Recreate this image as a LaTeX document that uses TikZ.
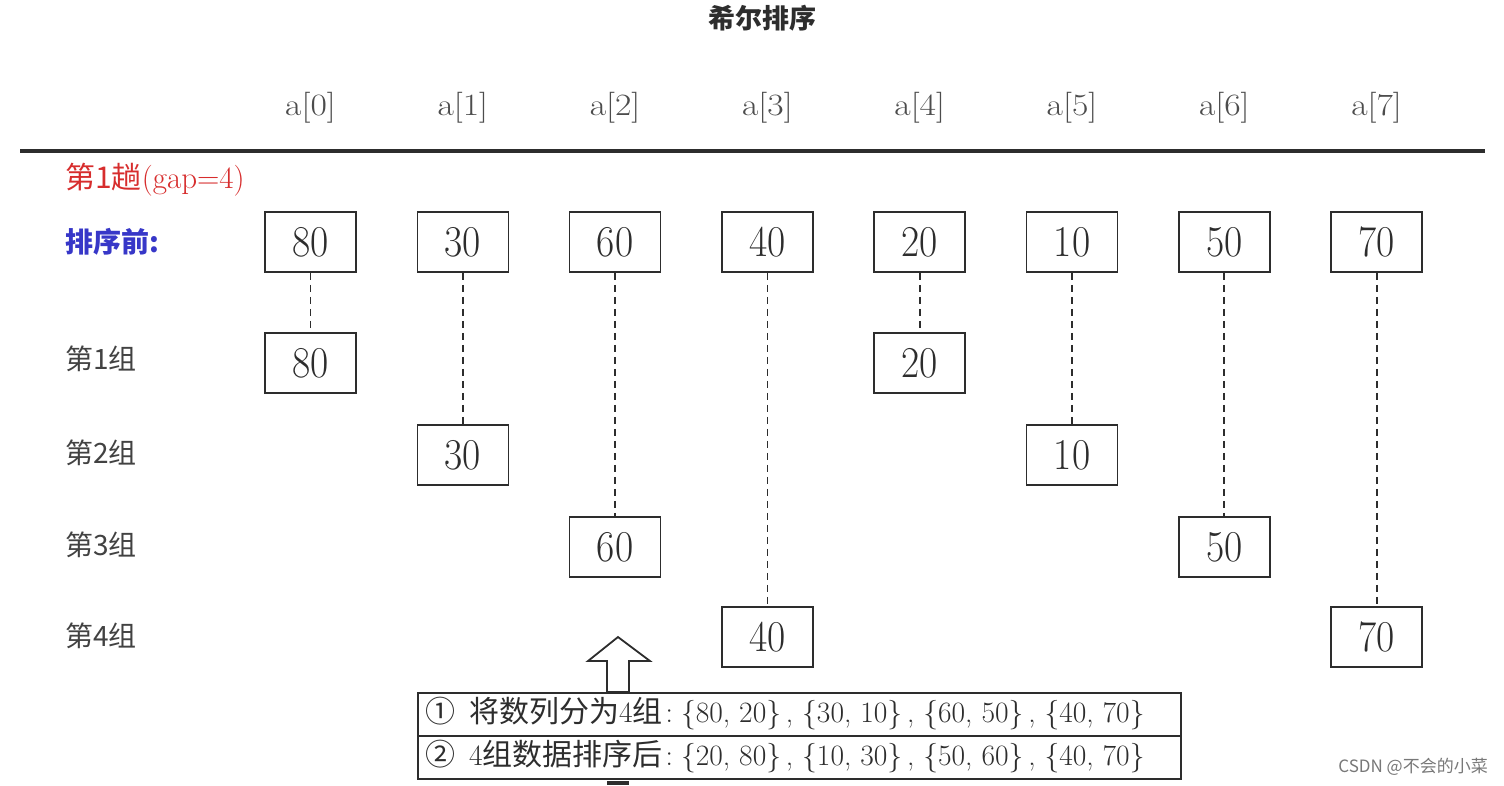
\documentclass[tikz,border=0pt]{standalone}
\usepackage{fontspec}
\usepackage{graphicx}
\newfontfamily\cjk{Noto Sans CJK SC}
\definecolor{ink}{RGB}{45,45,45}
\definecolor{hred}{RGB}{215,45,45}
\definecolor{hblue}{RGB}{55,55,200}
\definecolor{wm}{RGB}{120,120,120}
\newcommand{\numtxt}[1]{\scalebox{0.9}[1]{\fontsize{44}{48}\selectfont #1}}
\newcommand{\hdrtxt}[1]{\scalebox{1.15}[1]{\fontsize{31}{34}\selectfont #1}}
\newcommand{\cj}[1]{{\cjk\fontsize{30}{32}\selectfont #1}}
\begin{document}
\begin{tikzpicture}[x=1pt,y=-1pt,
  valbox/.style={draw=ink,line width=1.6pt,minimum width=91pt,minimum height=60pt,inner sep=0pt,text=ink},
  hdr/.style={text=ink!85,inner sep=0pt},
  rowlab/.style={anchor=west,inner sep=0pt,text=ink!90,font=\cjk\fontsize{28}{30}\selectfont},
  link/.style={draw=ink,line width=1.8pt,dash pattern=on 7pt off 5pt},
  infobox/.style={draw=ink,line width=2pt,minimum width=763pt,minimum height=43pt,inner sep=0pt,anchor=north west,text=ink}]
\useasboundingbox (0,0) rectangle (1504,785);
\fill[white] (0,0) rectangle (1504,785);
% title
\node[font=\cjk\bfseries\fontsize{27}{30}\selectfont,text=ink] (title) at (762,18) {希尔排序};
% separator
\coordinate (sepL) at (20,151);
\coordinate (sepR) at (1485,151);
\draw[ink,line width=3.5pt] (sepL) -- (sepR);
% left labels
\node[rowlab,text=hred,font=\cjk\fontsize{30}{32}\selectfont] (pass) at (65,180) {第1趟{\rmfamily\fontsize{31}{32}\selectfont(gap=4)}};
\node[rowlab,text=hblue,font=\cjk\bfseries\fontsize{28}{30}\selectfont] (before) at (65,242) {排序前:};
\node[rowlab] (grp1) at (65,359) {第1组};
\node[rowlab] (grp2) at (65,453) {第2组};
\node[rowlab] (grp3) at (65,545) {第3组};
\node[rowlab] (grp4) at (65,636) {第4组};
% columns
\foreach \i/\v/\gy in {0/80/363, 1/30/455, 2/60/547, 3/40/637, 4/20/363, 5/10/455, 6/50/547, 7/70/637}{
  \pgfmathsetmacro{\cx}{310.5+152.3*\i}
  \node[hdr] (h\i) at (\cx,108) {\hdrtxt{a[\i]}};
  \node[valbox] (t\i) at (\cx,242) {\numtxt{\v}};
  \node[valbox] (g\i) at (\cx,\gy) {\numtxt{\v}};
  \draw[link] (t\i.south) -- (g\i.north);
}
% info box
\node[infobox] (info1) at (417,692) {};
\node[infobox] (info2) at (417,735) {};
\node[anchor=west,inner sep=0pt,text=ink,font=\fontsize{29.5}{32}\selectfont] (txt1) at (425,713)
  {\cj{①\hspace{14pt}将数列分为}4\cj{组}\hspace{3pt}:\hspace{8pt}\{80, 20\}\,,\ \{30, 10\}\,,\ \{60, 50\}\,,\ \{40, 70\}};
\node[anchor=west,inner sep=0pt,text=ink,font=\fontsize{29.5}{32}\selectfont] (txt2) at (425,756)
  {\cj{②}\hspace{14pt}4\cj{组数据排序后}\hspace{3pt}:\hspace{8pt}\{20, 80\}\,,\ \{10, 30\}\,,\ \{50, 60\}\,,\ \{40, 70\}};
% hollow up arrow
\draw[ink,line width=1.8pt,fill=white,line join=miter]
  (618,637) -- (650,661) -- (629,661) -- (629,692) -- (607,692) -- (607,661) -- (588,661) -- cycle;
\fill[ink] (607,781) rectangle (629,785);
% watermark
\node[anchor=east,inner sep=0pt,text=wm,font=\cjk\fontsize{17}{20}\selectfont] (wmk) at (1488,767) {CSDN @不会的小菜};
\end{tikzpicture}
\end{document}
